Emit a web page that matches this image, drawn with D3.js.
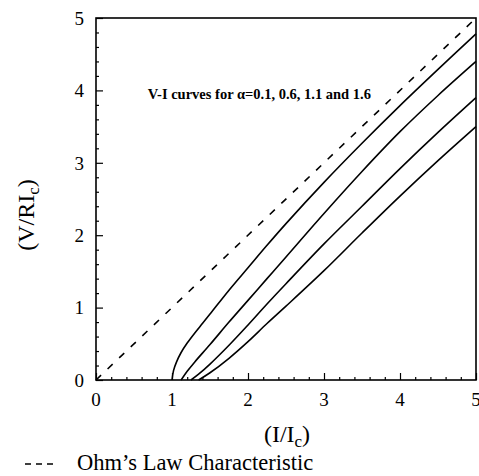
<!DOCTYPE html>
<html><head><meta charset="utf-8">
<script src="https://cdn.jsdelivr.net/npm/d3@7"></script>
<style>body{margin:0;background:#fff}</style>
</head><body>
<svg id="c" width="479" height="476"></svg>
<script>
// ---- data ----
const alphas = [0.1, 0.6, 1.1, 1.6];
const c1x = [1.0, 1.02, 1.06, 1.12, 1.2, 1.3, 1.4, 1.5, 1.75, 2.0, 2.25, 2.5, 3.0, 3.5, 4.0, 4.5, 5.0];
const c1y = [0, 0.13, 0.25, 0.38, 0.51, 0.65, 0.78, 0.91, 1.24, 1.55, 1.86, 2.16, 2.73, 3.27, 3.79, 4.29, 4.78];
const c2x = [1.12, 1.2, 1.3, 1.5, 1.75, 2.0, 2.25, 2.5, 3.0, 3.5, 4.0, 4.5, 5.0];
const c2y = [0, 0.12, 0.25, 0.49, 0.8, 1.1, 1.4, 1.7, 2.3, 2.88, 3.43, 3.93, 4.4];
const c3x = [1.25, 1.35, 1.5, 1.75, 2.0, 2.25, 2.5, 3.0, 3.5, 4.0, 4.5, 5.0];
const c3y = [0, 0.08, 0.22, 0.48, 0.76, 1.05, 1.33, 1.88, 2.4, 2.92, 3.42, 3.9];
const c4x = [1.35, 1.5, 1.75, 2.0, 2.25, 2.5, 3.0, 3.5, 4.0, 4.5, 5.0];
const c4y = [0, 0.1, 0.3, 0.53, 0.78, 1.02, 1.51, 2.03, 2.54, 3.03, 3.5];
const ohmX = [0, 5];
const ohmY = [0, 5];
const xTicks = [0, 1, 2, 3, 4, 5];
const yTicks = [0, 1, 2, 3, 4, 5];
const annotation = "V-I curves for \u03b1=0.1, 0.6, 1.1 and 1.6";
const legendLabel = "Ohm\u2019s Law Characteristic";

// ---- chart ----
const svg = d3.select("#c");
const x = d3.scaleLinear().domain([0, 5]).range([96, 476]);
const y = d3.scaleLinear().domain([0, 5]).range([380, 18]);
const serif = "'Liberation Serif', 'Times New Roman', serif";

const minor = d3.range(0, 5.0001, 0.2).map(v => +v.toFixed(1));

// left axis (ticks inward)
const gy = svg.append("g").attr("transform", `translate(${x(0)},0)`)
  .call(d3.axisRight(y).tickValues(minor).tickSize(3).tickFormat(""));
gy.select(".domain").remove();
gy.selectAll(".tick line").attr("stroke", "#000").attr("stroke-width", 1.2)
  .filter(d => Number.isInteger(d)).attr("x2", 7);
// bottom axis (ticks inward)
const gx = svg.append("g").attr("transform", `translate(0,${y(0)})`)
  .call(d3.axisTop(x).tickValues(minor).tickSize(3).tickFormat(""));
gx.select(".domain").remove();
gx.selectAll(".tick line").attr("stroke", "#000").attr("stroke-width", 1.2)
  .filter(d => Number.isInteger(d)).attr("y2", -7);

// frame
svg.append("rect").attr("x", x(0)).attr("y", y(5))
  .attr("width", x(5) - x(0)).attr("height", y(0) - y(5))
  .attr("fill", "none").attr("stroke", "#000").attr("stroke-width", 1.6);

// tick labels
svg.append("g").selectAll("text").data(yTicks).join("text")
  .attr("x", x(0) - 12).attr("y", d => y(d)).attr("dy", "0.36em")
  .attr("text-anchor", "end").attr("font-family", serif).attr("font-size", 19)
  .text(d => d);
svg.append("g").selectAll("text").data(xTicks).join("text")
  .attr("x", d => x(d)).attr("y", y(0) + 26)
  .attr("text-anchor", "middle").attr("font-family", serif).attr("font-size", 19)
  .text(d => d);

// curves
const curves = [[c1x, c1y], [c2x, c2y], [c3x, c3y], [c4x, c4y]];
const line = d3.line().x(d => x(d[0])).y(d => y(d[1])).curve(d3.curveCatmullRom.alpha(0.5));
svg.append("g").selectAll("path").data(curves).join("path")
  .attr("d", d => line(d3.zip(d[0], d[1])))
  .attr("fill", "none").attr("stroke", "#000").attr("stroke-width", 1.6);

// Ohm's law dashed line
svg.append("path").attr("d", d3.line().x(d => x(d[0])).y(d => y(d[1]))(d3.zip(ohmX, ohmY)))
  .attr("fill", "none").attr("stroke", "#000").attr("stroke-width", 1.6)
  .attr("stroke-dasharray", "7,9");

// annotation
svg.append("text").attr("x", x(0.68)).attr("y", y(3.88))
  .attr("font-family", serif).attr("font-size", 14.5).attr("font-weight", "bold")
  .text(annotation);

// axis titles
const xt = svg.append("text").attr("x", 287).attr("y", 442)
  .attr("text-anchor", "middle").attr("font-family", serif).attr("font-size", 24);
xt.append("tspan").text("(I/I");
xt.append("tspan").attr("font-size", 17).attr("dy", 5).text("c");
xt.append("tspan").attr("dy", -5).text(")");

const yt = svg.append("text").attr("transform", "translate(34,215) rotate(-90)")
  .attr("text-anchor", "middle").attr("font-family", serif).attr("font-size", 24);
yt.append("tspan").text("(V/RI");
yt.append("tspan").attr("font-size", 17).attr("dy", 5).text("c");
yt.append("tspan").attr("dy", -5).text(")");

// legend
svg.append("line").attr("x1", 25).attr("x2", 54).attr("y1", 464).attr("y2", 464)
  .attr("stroke", "#000").attr("stroke-width", 1.6).attr("stroke-dasharray", "6,5");
svg.append("text").attr("x", 77).attr("y", 470)
  .attr("font-family", serif).attr("font-size", 22.5).text(legendLabel);
</script>
</body></html>
